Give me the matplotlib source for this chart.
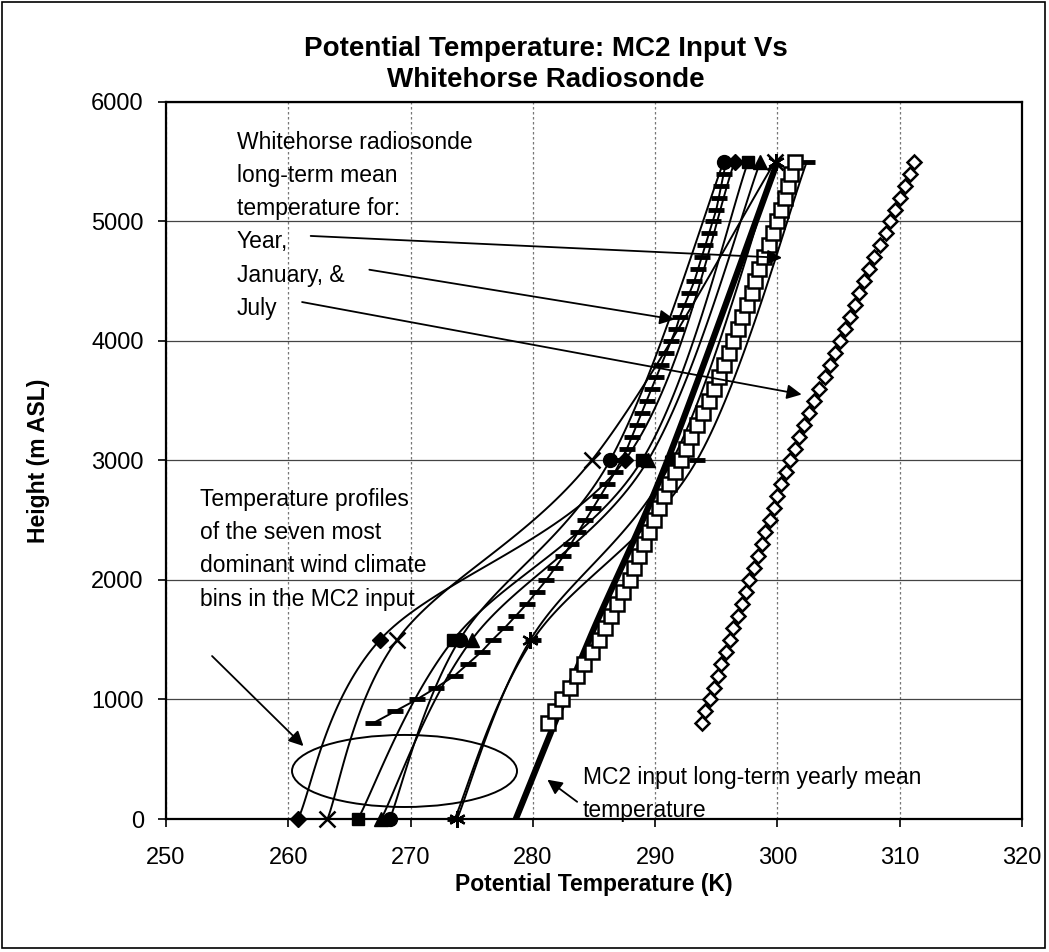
import numpy as np
import matplotlib.pyplot as plt
from matplotlib.patches import Ellipse, Rectangle

plt.rcParams['font.family'] = ['Liberation Sans', 'DejaVu Sans']

# MC2 input: seven dominant wind climate bins, heights 0 / 1500 / 3000 / 5500 m
bin_heights = [0, 1500, 3000, 5500]
bin_diamond = [260.8, 267.5, 287.5, 296.5]
bin_square = [265.7, 273.5, 288.9, 297.6]
bin_triangle = [267.6, 275.0, 289.4, 298.6]
bin_cross = [263.2, 268.9, 284.8, 299.8]
bin_star = [273.8, 279.8, 291.4, 299.9]
bin_circle = [268.3, 274.0, 286.3, 295.6]
bin_dash = [273.6, 280.0, 293.4, 302.4]
mc2_mean = [278.6, 284.6, 291.0, 300.0]

# Whitehorse radiosonde long-term means, every 100 m
sonde_heights = [800, 900, 1000, 1100, 1200, 1300, 1400, 1500, 1600, 1700,
                 1800, 1900, 2000, 2100, 2200, 2300, 2400, 2500, 2600, 2700,
                 2800, 2900, 3000, 3100, 3200, 3300, 3400, 3500, 3600, 3700,
                 3800, 3900, 4000, 4100, 4200, 4300, 4400, 4500, 4600, 4700,
                 4800, 4900, 5000, 5100, 5200, 5300, 5400, 5500]
sonde_year = [281.2, 281.8, 282.4, 283.0, 283.6, 284.2, 284.8, 285.4, 285.9, 286.4,
              286.9, 287.4, 287.9, 288.3, 288.7, 289.1, 289.5, 289.9, 290.3, 290.7,
              291.1, 291.6, 292.1, 292.5, 292.9, 293.4, 293.9, 294.4, 294.8, 295.2,
              295.6, 296.0, 296.4, 296.8, 297.1, 297.5, 297.9, 298.2, 298.5, 298.9,
              299.3, 299.6, 300.0, 300.3, 300.6, 300.9, 301.1, 301.4]
sonde_jan = [266.9, 268.7, 270.5, 272.1, 273.6, 274.7, 275.8, 276.7, 277.7, 278.6,
             279.5, 280.3, 281.1, 281.8, 282.5, 283.1, 283.7, 284.3, 284.9, 285.5,
             286.1, 286.7, 287.2, 287.7, 288.1, 288.5, 288.9, 289.3, 289.7, 290.1,
             290.5, 290.9, 291.3, 291.7, 292.0, 292.4, 292.8, 293.2, 293.5, 293.8,
             294.1, 294.4, 294.7, 295.0, 295.2, 295.4, 295.6, 295.8]
sonde_jul = [293.8, 294.1, 294.5, 294.8, 295.1, 295.4, 295.8, 296.1, 296.4, 296.8,
             297.1, 297.4, 297.7, 298.1, 298.4, 298.7, 299.0, 299.4, 299.7, 300.0,
             300.3, 300.7, 301.0, 301.4, 301.8, 302.2, 302.6, 303.0, 303.4, 303.9,
             304.3, 304.7, 305.1, 305.5, 305.9, 306.3, 306.7, 307.1, 307.5, 307.9,
             308.4, 308.9, 309.2, 309.6, 310.0, 310.4, 310.8, 311.2]


def smooth(x, y, n=40):
    # Excel-style smoothed line (Bezier through the points)
    p = np.column_stack([x, y]).astype(float)
    out = [p[0]]
    t = np.linspace(0, 1, n)[1:, None]
    for i in range(len(p) - 1):
        p0 = p[i - 1] if i > 0 else p[i]
        p3 = p[i + 2] if i + 2 < len(p) else p[i + 1]
        c1 = p[i] + (p[i + 1] - p0) / 6
        c2 = p[i + 1] - (p3 - p[i]) / 6
        seg = ((1 - t) ** 3 * p[i] + 3 * (1 - t) ** 2 * t * c1
               + 3 * (1 - t) * t ** 2 * c2 + t ** 3 * p[i + 1])
        out.extend(seg)
    out = np.array(out)
    return out[:, 0], out[:, 1]


fig = plt.figure(figsize=(10.49, 9.52), dpi=100)
ax = fig.add_axes([0.1583, 0.1397, 0.816, 0.7532])

# bins
bins = [(bin_diamond, dict(marker='D', ms=8)),
        (bin_square, dict(marker='s', ms=9)),
        (bin_triangle, dict(marker='^', ms=10)),
        (bin_cross, dict(marker='x', ms=11, mew=1.8)),
        (bin_star, dict(marker=(6, 2, 0), ms=12, mew=1.6)),
        (bin_circle, dict(marker='o', ms=10)),
        (bin_dash, dict(marker='_', ms=11, mew=3.5))]
for vals, mk in bins:
    sx, sy = smooth(vals, bin_heights)
    ax.plot(sx, sy, color='black', lw=1.4, zorder=3)
    ax.plot(vals, bin_heights, ls='none', color='black', zorder=4,
            clip_on=False, **mk)

mx, my = smooth(mc2_mean, bin_heights)
ax.plot(mx, my, color='black', lw=4.5, solid_capstyle='butt', zorder=3)

# radiosonde
ax.plot(sonde_jan, sonde_heights, color='black', lw=1.4, marker='_', ms=11,
        mew=3.5, zorder=5)
ax.plot(sonde_year, sonde_heights, color='black', lw=1.2, marker='s', ms=10,
        mfc='white', mew=1.8, zorder=6)
ax.plot(sonde_jul, sonde_heights, color='black', lw=1.2, marker='D', ms=7,
        mfc='white', mew=1.8, zorder=6)

ax.set_xlim(250, 320)
ax.set_ylim(0, 6000)
ax.set_xticks(range(250, 321, 10))
ax.set_yticks(range(0, 6001, 1000))
ax.tick_params(labelsize=17, direction='out', length=6, width=1.2)
ax.tick_params(axis='x', pad=14)
ax.tick_params(axis='y', pad=10)
ax.grid(axis='y', color='#444444', lw=0.9)
ax.grid(axis='x', color='#777777', lw=0.9, ls=(0, (2, 2)))
ax.set_axisbelow(True)
for s in ax.spines.values():
    s.set_linewidth(1.6)

ax.set_xlabel('Potential Temperature (K)', fontsize=16.5, fontweight='bold', labelpad=3)
ax.set_ylabel('Height (m ASL)', fontsize=16.5, fontweight='bold', labelpad=30)
fig.text(0.52, 0.932, 'Potential Temperature: MC2 Input Vs\nWhitehorse Radiosonde',
         ha='center', va='center', fontsize=20, fontweight='bold', linespacing=1.25)

# annotations
txt = dict(fontsize=16.5, linespacing=1.57, va='top', ha='left', zorder=8)
ax.text(255.8, 5760, 'Whitehorse radiosonde\nlong-term mean\ntemperature for:\n'
        'Year,\nJanuary, &\nJuly', **txt)
ax.text(252.8, 2770, 'Temperature profiles\nof the seven most\n'
        'dominant wind climate\nbins in the MC2 input', **txt)
ax.text(284.1, 443, 'MC2 input long-term yearly mean\ntemperature', **txt)

arr = dict(arrowstyle='-|>', color='black', lw=1.3, mutation_scale=22)
ax.annotate('', xy=(300.6, 4695), xytext=(261.6, 4880), arrowprops=arr, zorder=7)
ax.annotate('', xy=(291.8, 4176), xytext=(266.4, 4600), arrowprops=arr, zorder=7)
ax.annotate('', xy=(302.2, 3548), xytext=(260.9, 4330), arrowprops=arr, zorder=7)
ax.annotate('', xy=(261.4, 594), xytext=(253.6, 1380), arrowprops=arr, zorder=7)
ax.annotate('', xy=(281.0, 343), xytext=(283.8, 130), arrowprops=arr, zorder=7)

ax.add_patch(Ellipse((269.5, 402), 18.4, 603, fill=False, ec='black', lw=1.4, zorder=7))

fig.add_artist(Rectangle((0.002, 0.004), 0.994, 0.994, transform=fig.transFigure,
                         fill=False, ec='black', lw=1.2))

fig.savefig('out.png', dpi=100)
